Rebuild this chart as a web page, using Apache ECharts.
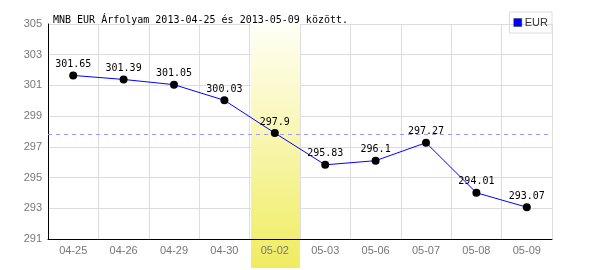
<!DOCTYPE html>
<html><head><meta charset="utf-8">
<script src="https://cdn.jsdelivr.net/npm/echarts@6/dist/echarts.min.js"></script>
<style>html,body{margin:0;padding:0;background:#fff}#c{width:600px;height:270px}</style>
</head><body><div id="c"></div>
<script>
const categories = ['04-25','04-26','04-29','04-30','05-02','05-03','05-06','05-07','05-08','05-09'];
const eurValues = [301.65,301.39,301.05,300.03,297.9,295.83,296.1,297.27,294.01,293.07];
const highlightCategory = '05-02';
const seriesName = 'EUR';
const titleText = 'MNB EUR Árfolyam 2013-04-25 és 2013-05-09 között.';

const chart = echarts.init(document.getElementById('c'), null, {renderer:'canvas'});
const mono = 'DejaVu Sans Mono';
const sans = 'Liberation Sans';
chart.setOption({
  animation:false,
  title:{text:titleText,left:48,top:10,textStyle:{fontFamily:mono,fontSize:10,fontWeight:'normal',color:'#000'}},
  legend:{right:48,top:12,itemWidth:8,itemHeight:8,itemGap:3,padding:[5,4,5,4],borderColor:'#ddd',borderWidth:1,borderRadius:0,
    icon:'rect',textStyle:{fontFamily:sans,fontSize:11,color:'#333',padding:[0,0,0,-2]},data:[{name:seriesName,itemStyle:{color:'#0000ff',borderColor:'#333',borderWidth:0.5}}]},
  grid:{left:48,right:48,top:24,bottom:31},
  xAxis:[
    {type:'category',data:categories,boundaryGap:true,z:0,
     axisLine:{show:false},axisTick:{show:false},axisLabel:{show:false},
     splitLine:{show:true,lineStyle:{color:'#ddd',width:1}}},
    {type:'category',data:categories,boundaryGap:true,z:3,position:'bottom',
     axisLine:{show:true,lineStyle:{color:'#000',width:1}},axisTick:{show:false},
     axisLabel:{color:'#777',fontFamily:sans,fontSize:11,margin:6},
     splitLine:{show:false}}
  ],
  yAxis:{type:'value',min:291,max:305,interval:2,z:0,
    axisLine:{show:true,lineStyle:{color:'#000',width:1}},axisTick:{show:false},
    axisLabel:{color:'#777',fontFamily:sans,fontSize:11,margin:6},
    splitLine:{show:true,lineStyle:{color:'#ddd',width:1}}},
  series:[
    {name:seriesName+'_avg',type:'line',data:eurValues,z:0.5,xAxisIndex:0,
     lineStyle:{opacity:0},symbol:'none',silent:true,legendHoverLink:false,
     markLine:{silent:true,symbol:'none',label:{show:false},lineStyle:{color:'#9999ff',type:[4,4],width:1},data:[{type:'average'}]}},
    {name:seriesName,type:'line',data:eurValues,z:5,xAxisIndex:0,
    lineStyle:{color:'#0000ff',width:1},itemStyle:{color:'#000'},
    symbol:'circle',symbolSize:8,
    label:{show:true,position:'top',distance:2,color:'#000',fontFamily:mono,fontSize:10}}
  ]
});
// highlight band for highlighted category, positioned with the axis scale
const idx = categories.indexOf(highlightCategory);
const xc = chart.convertToPixel({xAxisIndex:0}, idx);
const w = chart.convertToPixel({xAxisIndex:0}, 1) - chart.convertToPixel({xAxisIndex:0}, 0);
const yTop = chart.convertToPixel({yAxisIndex:0}, 305);
chart.setOption({graphic:[{type:'rect',z:1,silent:true,
  shape:{x:Math.round(xc-w/2)+1,y:yTop,width:Math.round(w)-1,height:268-yTop},
  style:{fill:new echarts.graphic.LinearGradient(0,0,0,1,[{offset:0,color:'#fffff6'},{offset:1,color:'#f0ec60'}])}}]});
</script></body></html>
